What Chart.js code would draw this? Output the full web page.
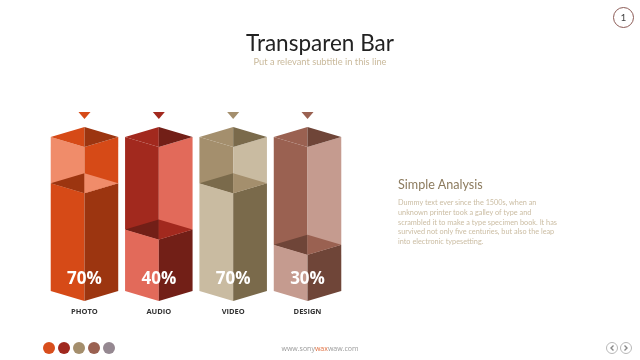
<!DOCTYPE html>
<html>
<head>
<meta charset="utf-8">
<script src="https://cdn.jsdelivr.net/npm/chart.js@4.4.1/dist/chart.umd.min.js"></script>
<style>
  html, body { margin: 0; padding: 0; background: #fff; }
  #slide { position: relative; width: 640px; height: 360px; overflow: hidden; font-family: Lato, "Open Sans", sans-serif; }
  #chartBox { position: absolute; left: 0; top: 0; width: 640px; height: 360px; }
  .abs { position: absolute; white-space: nowrap; }
  #title { left: 0; width: 640px; top: 29px; text-align: center; font-size: 22.5px; color: #222; }
  #subtitle { left: 0; width: 640px; top: 55.5px; text-align: center; font-size: 9.3px; color: #c9b99b; }
  #side { left: 398px; top: 177px; }
  #side h2 { margin: 0; font-weight: normal; font-size: 12.6px; color: #8c7b5e; }
  #side p { margin: 6px 0 0 0; font-size: 7.3px; line-height: 9.8px; color: #cbbda3; }
  .dot { position: absolute; top: 342px; width: 12px; height: 12px; border-radius: 50%; }
  #footer { left: 0; width: 640px; top: 344px; text-align: center; font-size: 7px; color: #9a9a9a; font-family: "Open Sans", sans-serif; }
  #footer span { color: #e07040; }
  #page { left: 613px; top: 7px; width: 19px; height: 19px; border: 1.5px solid #8b5a55; border-radius: 50%; text-align: center; font-size: 10px; line-height: 19px; color: #444; }
</style>
</head>
<body>
<div id="slide">
  <div id="chartBox"><canvas id="chart"></canvas></div>
  <div class="abs" id="title">Transparen Bar</div>
  <div class="abs" id="subtitle">Put a relevant subtitle in this line</div>
  <div class="abs" id="side">
    <h2>Simple Analysis</h2>
    <p>Dummy text ever since the 1500s, when an<br>unknown printer took a galley of type and<br>scrambled it to make a type specimen book. It has<br>survived not only five centuries, but also the leap<br>into electronic typesetting.</p>
  </div>
  <div class="abs" id="footer">www.sony<span>wax</span>waw.com</div>
  <div class="abs" id="page">1</div>
  <svg class="abs" style="left:605px;top:341px" width="30" height="14">
    <circle cx="7" cy="7" r="5.5" fill="none" stroke="#b8b8b8" stroke-width="1"/>
    <polyline points="8.5,4.5 6,7 8.5,9.5" fill="none" stroke="#888" stroke-width="1.4"/>
    <circle cx="21" cy="7" r="5.5" fill="none" stroke="#b8b8b8" stroke-width="1"/>
    <polyline points="19.5,4.5 22,7 19.5,9.5" fill="none" stroke="#888" stroke-width="1.4"/>
  </svg>
</div>
<script>
const categories = ['PHOTO', 'AUDIO', 'VIDEO', 'DESIGN']
const percentValues = [70, 40, 70, 30]

// light / mid / dark shade for each bar
const barShades = [
  ['#f08c6a', '#d64a17', '#9c3510'],
  ['#e26a5a', '#a2291e', '#721f17'],
  ['#c9bba1', '#a48f6d', '#7a6a4b'],
  ['#c59b8f', '#9a6151', '#6f4538']
]
const legendDots = ['#d84e1c', '#a0281e', '#a48e6c', '#9a6151', '#958891']

const slide = document.getElementById('slide')
legendDots.forEach((c, i) => {
  const d = document.createElement('div')
  d.className = 'dot'
  d.style.left = (43 + i * 15) + 'px'
  d.style.background = c
  slide.appendChild(d)
})

function poly (ctx, pts, color) {
  ctx.beginPath()
  ctx.moveTo(pts[0][0], pts[0][1])
  for (let i = 1; i < pts.length; i++) ctx.lineTo(pts[i][0], pts[i][1])
  ctx.closePath()
  ctx.fillStyle = color
  ctx.fill()
}

const prisms = {
  id: 'prisms',
  afterDatasetsDraw (chart) {
    const ctx = chart.ctx
    const ys = chart.scales.y
    const yTop = ys.getPixelForValue(100)
    const yBot = ys.getPixelForValue(0)
    const d = 10
    chart.getDatasetMeta(0).data.forEach((bar, i) => {
      const cx = bar.x
      const w = bar.width / 2
      const yl = bar.y
      const [light, mid, dark] = barShades[i]
      // first bar has the light face on the left, others on the right
      const emptyL = i === 0 ? light : mid
      const emptyR = i === 0 ? mid : light
      const fillL = i === 0 ? mid : light
      const levelR = i === 0 ? light : mid

      ctx.save()
      // empty (transparent) part
      poly(ctx, [[cx - w, yTop], [cx, yTop + d], [cx, yl + d], [cx - w, yl]], emptyL)
      poly(ctx, [[cx, yTop + d], [cx + w, yTop], [cx + w, yl], [cx, yl + d]], emptyR)
      // filled part
      poly(ctx, [[cx - w, yl], [cx, yl + d], [cx, yBot + d], [cx - w, yBot]], fillL)
      poly(ctx, [[cx, yl + d], [cx + w, yl], [cx + w, yBot], [cx, yBot + d]], dark)
      // level face
      poly(ctx, [[cx - w, yl], [cx, yl - d], [cx, yl + d]], dark)
      poly(ctx, [[cx, yl - d], [cx + w, yl], [cx, yl + d]], levelR)
      // top face
      poly(ctx, [[cx - w, yTop], [cx, yTop - d], [cx, yTop + d]], mid)
      poly(ctx, [[cx, yTop - d], [cx + w, yTop], [cx, yTop + d]], dark)
      // marker
      poly(ctx, [[cx - 6, yTop - 25], [cx + 6, yTop - 25], [cx, yTop - 18]], mid)
      // value label
      ctx.fillStyle = '#fff'
      ctx.font = 'bold 17px "Open Sans", sans-serif'
      ctx.textAlign = 'center'
      ctx.textBaseline = 'middle'
      ctx.fillText(percentValues[i] + '%', cx, yBot - 12)
      ctx.restore()
    })
  }
}

new Chart(document.getElementById('chart'), {
  type: 'bar',
  data: {
    labels: categories,
    datasets: [{
      data: percentValues,
      backgroundColor: 'rgba(0,0,0,0)',
      borderWidth: 0,
      categoryPercentage: 1,
      barPercentage: 0.908
    }]
  },
  options: {
    animation: false,
    responsive: true,
    maintainAspectRatio: false,
    layout: { padding: { left: 47.3, right: 295.3, top: 137, bottom: 39 } },
    plugins: { legend: { display: false }, tooltip: { enabled: false } },
    scales: {
      x: {
        grid: { display: false, drawTicks: false },
        border: { display: false },
        ticks: {
          padding: 16,
          color: '#333',
          font: { family: '"Open Sans", sans-serif', size: 7.5, weight: 'bold' }
        },
        afterFit (scale) { scale.height = 30 }
      },
      y: { display: false, min: 0, max: 100 }
    }
  },
  plugins: [prisms]
})
</script>
</body>
</html>
